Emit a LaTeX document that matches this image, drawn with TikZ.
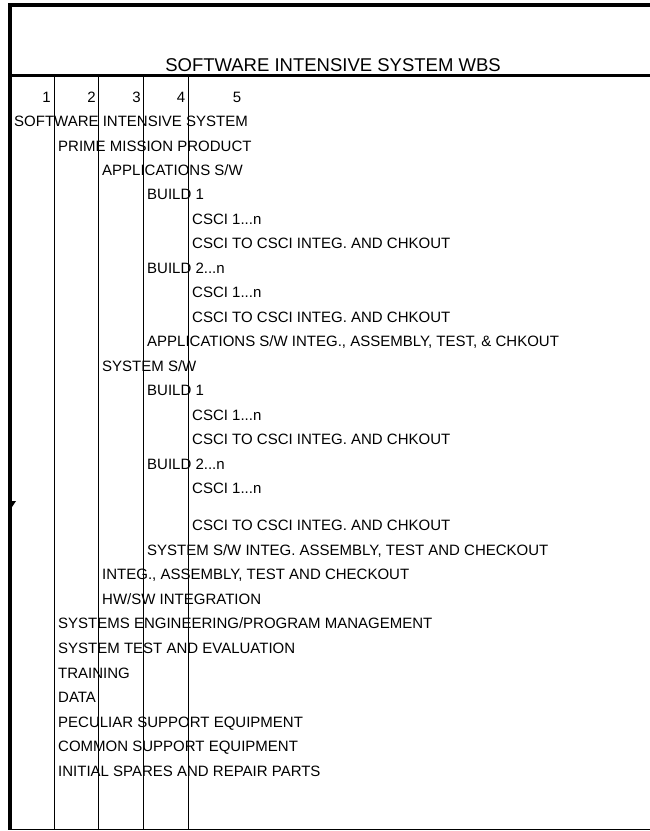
\documentclass[tikz,border=0pt]{standalone}
\usepackage{fontspec}
\setmainfont{Liberation Sans}
\begin{document}
\begin{tikzpicture}[x=1pt,y=-1pt,
  lbl/.style={anchor=base west, inner sep=0pt, font=\fontsize{15}{18}\selectfont},
  num/.style={anchor=base east, inner sep=0pt, font=\fontsize{15}{18}\selectfont},
  ttl/.style={anchor=base, inner sep=0pt, font=\fontsize{18.5}{22}\selectfont},
  thickrule/.style={line width=3.6pt},
  thinrule/.style={line width=1.5pt},
  colrule/.style={line width=1pt}]
\useasboundingbox (0,0) rectangle (650,831);
% frame
\draw[thickrule] (650,5) -- (10.2,5) -- (10.2,829.5);
\draw[thickrule] (10.2,75.5) -- (650,75.5);
\draw[thinrule] (10.2,829.5) -- (650,829.5);
\fill (12,501) -- (16,501) -- (12,507) -- cycle;
% column rules
\foreach \cx in {54,98.5,143.5,188}
  \draw[colrule] (\cx,77) -- (\cx,829);
% title
\node[ttl] (title) at (333,71) {SOFTWARE INTENSIVE SYSTEM WBS};
% level numbers
\node[num] (n1) at (51,102) {1};
\node[num] (n2) at (96,102) {2};
\node[num] (n3) at (141,102) {3};
\node[num] (n4) at (185.5,102) {4};
\node[anchor=base, inner sep=0pt, font=\fontsize{15}{18}\selectfont] (n5) at (237,102) {5};
% rows
\def\la{14}\def\lb{58}\def\lc{102}\def\ld{147}\def\le{192}
\node[lbl] (r0)  at (\la,126.5) {SOFTWARE INTENSIVE SYSTEM};
\node[lbl] (r1)  at (\lb,151.0) {PRIME MISSION PRODUCT};
\node[lbl] (r2)  at (\lc,175.4) {APPLICATIONS S/W};
\node[lbl] (r3)  at (\ld,199.9) {BUILD 1};
\node[lbl] (r4)  at (\le,224.4) {CSCI 1...n};
\node[lbl] (r5)  at (\le,248.9) {CSCI TO CSCI INTEG. AND CHKOUT};
\node[lbl] (r6)  at (\ld,273.3) {BUILD 2...n};
\node[lbl] (r7)  at (\le,297.8) {CSCI 1...n};
\node[lbl] (r8)  at (\le,322.3) {CSCI TO CSCI INTEG. AND CHKOUT};
\node[lbl] (r9)  at (\ld,346.7) {APPLICATIONS S/W INTEG., ASSEMBLY, TEST, \& CHKOUT};
\node[lbl] (r10) at (\lc,371.2) {SYSTEM S/W};
\node[lbl] (r11) at (\ld,395.7) {BUILD 1};
\node[lbl] (r12) at (\le,420.1) {CSCI 1...n};
\node[lbl] (r13) at (\le,444.6) {CSCI TO CSCI INTEG. AND CHKOUT};
\node[lbl] (r14) at (\ld,469.1) {BUILD 2...n};
\node[lbl] (r15) at (\le,493.6) {CSCI 1...n};
\node[lbl] (r16) at (\le,530.5) {CSCI TO CSCI INTEG. AND CHKOUT};
\node[lbl] (r17) at (\ld,555.1) {SYSTEM S/W INTEG. ASSEMBLY, TEST AND CHECKOUT};
\node[lbl] (r18) at (\lc,579.7) {INTEG., ASSEMBLY, TEST AND CHECKOUT};
\node[lbl] (r19) at (\lc,604.3) {HW/SW INTEGRATION};
\node[lbl] (r20) at (\lb,628.9) {SYSTEMS ENGINEERING/PROGRAM MANAGEMENT};
\node[lbl] (r21) at (\lb,653.5) {SYSTEM TEST AND EVALUATION};
\node[lbl] (r22) at (\lb,678.1) {TRAINING};
\node[lbl] (r23) at (\lb,702.7) {DATA};
\node[lbl] (r24) at (\lb,727.3) {PECULIAR SUPPORT EQUIPMENT};
\node[lbl] (r25) at (\lb,751.9) {COMMON SUPPORT EQUIPMENT};
\node[lbl] (r26) at (\lb,776.5) {INITIAL SPARES AND REPAIR PARTS};
\end{tikzpicture}
\end{document}
